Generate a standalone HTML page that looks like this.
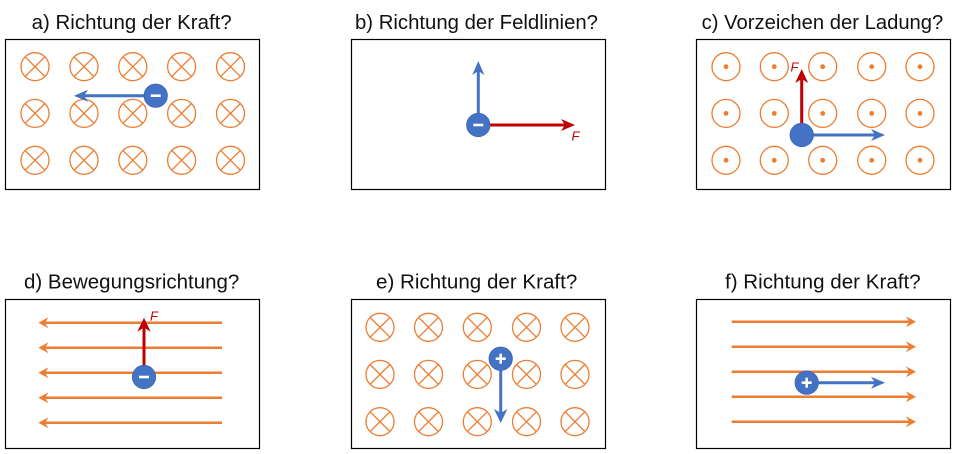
<!DOCTYPE html>
<html><head><meta charset="utf-8"><style>
html,body{margin:0;padding:0;background:#fff;}
svg{display:block;}
.t{font-family:"Liberation Sans",sans-serif;font-size:20px;fill:#111;}
.F{font-family:"Liberation Sans",sans-serif;font-size:13px;font-style:italic;fill:#C00000;}
</style></head><body>
<svg width="956" height="454" viewBox="0 0 956 454" xmlns="http://www.w3.org/2000/svg">
<defs>
<g id="x" fill="none" stroke="#ED7D31" stroke-width="1.3"><circle r="14"/><line x1="-9.9" y1="-9.9" x2="9.9" y2="9.9"/><line x1="-9.9" y1="9.9" x2="9.9" y2="-9.9"/></g>
<g id="o"><circle r="14" fill="none" stroke="#ED7D31" stroke-width="1.3"/><circle r="2.4" fill="#ED7D31"/></g>
<g id="neg"><circle r="11.7" fill="#4472C4" stroke="#3B66B3" stroke-width="0.8"/><rect x="-5" y="-1.3" width="10" height="2.6" fill="#fff"/></g>
<g id="pos"><circle r="11.7" fill="#4472C4" stroke="#3B66B3" stroke-width="0.8"/><rect x="-5" y="-1.3" width="10" height="2.6" fill="#fff"/><rect x="-1.3" y="-5" width="2.6" height="10" fill="#fff"/></g>
<g id="q"><circle r="11.7" fill="#4472C4" stroke="#3B66B3" stroke-width="0.8"/></g>
</defs>

<!-- Titles -->
<text class="t" x="31.7" y="29" textLength="200" lengthAdjust="spacingAndGlyphs">a) Richtung der Kraft?</text>
<text class="t" x="355" y="29" textLength="243" lengthAdjust="spacingAndGlyphs">b) Richtung der Feldlinien?</text>
<text class="t" x="701.7" y="29" textLength="241.6" lengthAdjust="spacingAndGlyphs">c) Vorzeichen der Ladung?</text>
<text class="t" x="24" y="288.3" textLength="215.3" lengthAdjust="spacingAndGlyphs">d) Bewegungsrichtung?</text>
<text class="t" x="376" y="288.3" textLength="201.3" lengthAdjust="spacingAndGlyphs">e) Richtung der Kraft?</text>
<text class="t" x="725" y="288.3" textLength="195.7" lengthAdjust="spacingAndGlyphs">f) Richtung der Kraft?</text>

<!-- Boxes -->
<g fill="none" stroke="#000" stroke-width="1.2">
<rect x="5.5" y="39.5" width="254" height="150"/>
<rect x="351.5" y="39.5" width="254" height="150"/>
<rect x="696.5" y="39.5" width="254" height="150"/>
<rect x="5.5" y="299.5" width="254" height="149"/>
<rect x="351.5" y="299.5" width="254" height="149"/>
<rect x="696.5" y="299.5" width="254" height="149"/>
</g>

<!-- Panel a -->
<use href="#x" x="35" y="66.7"/><use href="#x" x="84" y="66.7"/><use href="#x" x="132.8" y="66.7"/><use href="#x" x="181.6" y="66.7"/><use href="#x" x="230.5" y="66.7"/>
<use href="#x" x="35" y="113.4"/><use href="#x" x="84" y="113.4"/><use href="#x" x="132.8" y="113.4"/><use href="#x" x="181.6" y="113.4"/><use href="#x" x="230.5" y="113.4"/>
<use href="#x" x="35" y="160.3"/><use href="#x" x="84" y="160.3"/><use href="#x" x="132.8" y="160.3"/><use href="#x" x="181.6" y="160.3"/><use href="#x" x="230.5" y="160.3"/>
<line x1="146" y1="95.7" x2="83" y2="95.7" stroke="#4472C4" stroke-width="3"/>
<polygon points="74,95.7 88,89.7 84,95.7 88,101.7" fill="#4472C4"/>
<use href="#neg" x="155.7" y="95.7"/>

<!-- Panel b -->
<line x1="478.3" y1="115" x2="478.3" y2="71" stroke="#4472C4" stroke-width="3"/>
<polygon points="478.3,61 472.3,75 478.3,71 484.3,75" fill="#4472C4"/>
<line x1="488" y1="125" x2="566" y2="125" stroke="#C00000" stroke-width="3"/>
<polygon points="575,125 561,119 565,125 561,131" fill="#C00000"/>
<use href="#neg" x="478.3" y="125"/>
<text class="F" x="571.5" y="140.7">F</text>

<!-- Panel c -->
<use href="#o" x="726" y="66.7"/><use href="#o" x="774.3" y="66.7"/><use href="#o" x="822.7" y="66.7"/><use href="#o" x="871.7" y="66.7"/><use href="#o" x="920" y="66.7"/>
<use href="#o" x="726" y="113.4"/><use href="#o" x="774.3" y="113.4"/><use href="#o" x="822.7" y="113.4"/><use href="#o" x="871.7" y="113.4"/><use href="#o" x="920" y="113.4"/>
<use href="#o" x="726" y="160.3"/><use href="#o" x="774.3" y="160.3"/><use href="#o" x="822.7" y="160.3"/><use href="#o" x="871.7" y="160.3"/><use href="#o" x="920" y="160.3"/>
<line x1="801.7" y1="125" x2="801.7" y2="79" stroke="#C00000" stroke-width="3"/>
<polygon points="801.7,69 795.2,83 801.7,79 808.2,83" fill="#C00000"/>
<line x1="811" y1="135" x2="875" y2="135" stroke="#4472C4" stroke-width="3"/>
<polygon points="885,135 871,129 875,135 871,141" fill="#4472C4"/>
<use href="#q" x="801.7" y="135"/>
<text class="F" x="790.5" y="71.7">F</text>

<!-- Panel d -->
<g stroke="#ED7D31" stroke-width="2.5">
<line x1="222" y1="322.7" x2="45" y2="322.7"/>
<line x1="222" y1="347.7" x2="45" y2="347.7"/>
<line x1="222" y1="372.7" x2="45" y2="372.7"/>
<line x1="222" y1="397.7" x2="45" y2="397.7"/>
<line x1="222" y1="422.7" x2="45" y2="422.7"/>
</g>
<g fill="#ED7D31">
<polygon points="38.3,322.7 48.5,317.2 45,322.7 48.5,328.2"/>
<polygon points="38.3,347.7 48.5,342.2 45,347.7 48.5,353.2"/>
<polygon points="38.3,372.7 48.5,367.2 45,372.7 48.5,378.2"/>
<polygon points="38.3,397.7 48.5,392.2 45,397.7 48.5,403.2"/>
<polygon points="38.3,422.7 48.5,417.2 45,422.7 48.5,428.2"/>
</g>
<line x1="144" y1="367" x2="144" y2="327" stroke="#C00000" stroke-width="3"/>
<polygon points="144,317.7 137.3,331.7 144,327.5 150.7,331.7" fill="#C00000"/>
<use href="#neg" x="144" y="377"/>
<text class="F" x="150" y="320.7">F</text>

<!-- Panel e -->
<use href="#x" x="380" y="327.3"/><use href="#x" x="428.5" y="327.3"/><use href="#x" x="477.3" y="327.3"/><use href="#x" x="526.5" y="327.3"/><use href="#x" x="575" y="327.3"/>
<use href="#x" x="380" y="374.4"/><use href="#x" x="428.5" y="374.4"/><use href="#x" x="477.3" y="374.4"/><use href="#x" x="526.5" y="374.4"/><use href="#x" x="575" y="374.4"/>
<use href="#x" x="380" y="421.7"/><use href="#x" x="428.5" y="421.7"/><use href="#x" x="477.3" y="421.7"/><use href="#x" x="526.5" y="421.7"/><use href="#x" x="575" y="421.7"/>
<line x1="500.7" y1="368" x2="500.7" y2="413" stroke="#4472C4" stroke-width="3"/>
<polygon points="500.7,423 494,409 500.7,413 507.4,409" fill="#4472C4"/>
<use href="#pos" x="500.7" y="358.7"/>

<!-- Panel f -->
<g stroke="#ED7D31" stroke-width="2.5">
<line x1="731.7" y1="321.7" x2="909" y2="321.7"/>
<line x1="731.7" y1="346.7" x2="909" y2="346.7"/>
<line x1="731.7" y1="371.7" x2="909" y2="371.7"/>
<line x1="731.7" y1="396.7" x2="909" y2="396.7"/>
<line x1="731.7" y1="421.7" x2="909" y2="421.7"/>
</g>
<g fill="#ED7D31">
<polygon points="916,321.7 905.8,316.2 909.3,321.7 905.8,327.2"/>
<polygon points="916,346.7 905.8,341.2 909.3,346.7 905.8,352.2"/>
<polygon points="916,371.7 905.8,366.2 909.3,371.7 905.8,377.2"/>
<polygon points="916,396.7 905.8,391.2 909.3,396.7 905.8,402.2"/>
<polygon points="916,421.7 905.8,416.2 909.3,421.7 905.8,427.2"/>
</g>
<line x1="816" y1="382.7" x2="875" y2="382.7" stroke="#4472C4" stroke-width="3"/>
<polygon points="885,382.7 871,376.7 875,382.7 871,388.7" fill="#4472C4"/>
<use href="#pos" x="806.7" y="382.7"/>
</svg>
</body></html>
